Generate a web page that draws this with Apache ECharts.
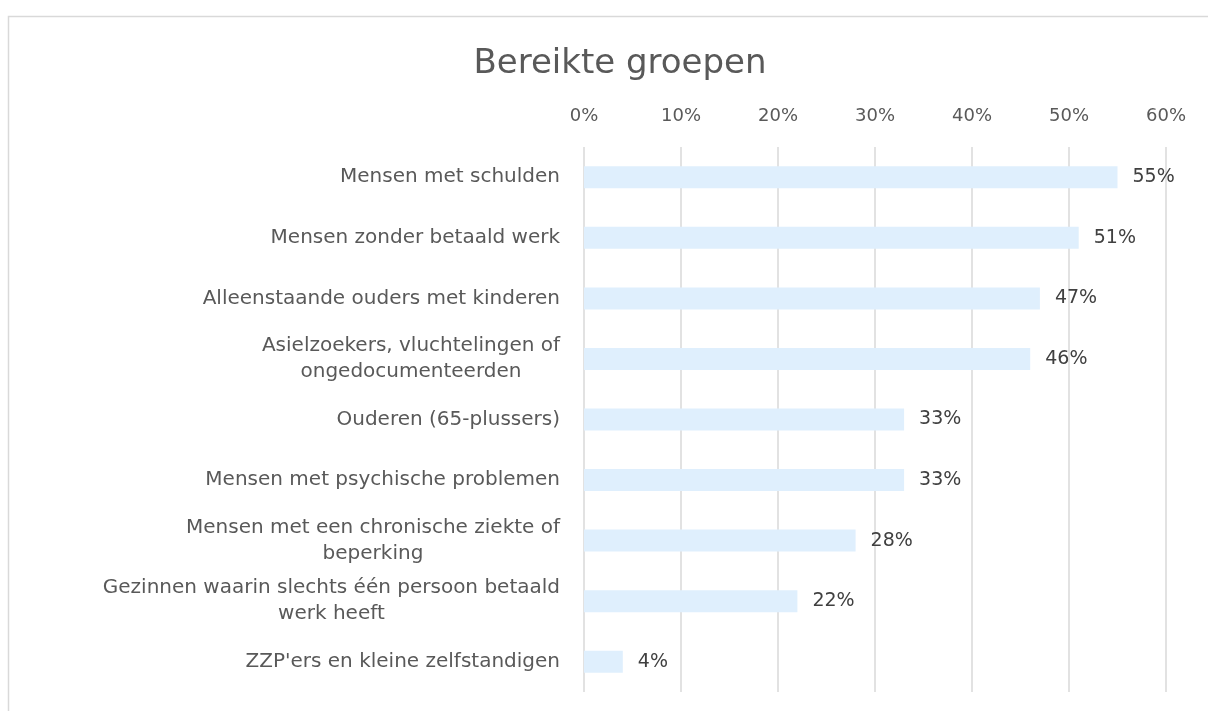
<!DOCTYPE html>
<html>
<head>
<meta charset="utf-8">
<script src="https://cdn.jsdelivr.net/npm/echarts@6/dist/echarts.min.js"></script>
<style>
  html, body { margin: 0; padding: 0; background: #fff; }
  #chart { width: 1208px; height: 711px; }
</style>
</head>
<body>
<div id="chart"></div>
<script>
const categories = [
  'Mensen met schulden',
  'Mensen zonder betaald werk',
  'Alleenstaande ouders met kinderen',
  'Asielzoekers, vluchtelingen of\nongedocumenteerden',
  'Ouderen (65-plussers)',
  'Mensen met psychische problemen',
  'Mensen met een chronische ziekte of\nbeperking',
  'Gezinnen waarin slechts één persoon betaald\nwerk heeft',
  "ZZP'ers en kleine zelfstandigen"
]
const values = [55, 51, 47, 46, 33, 33, 28, 22, 4]

const font = 'DejaVu Sans'
const chart = echarts.init(document.getElementById('chart'))

chart.setOption({
  animation: false,
  title: {
    text: 'Bereikte groepen',
    left: 615,
    top: 42,
    textAlign: 'center',
    textStyle: { fontFamily: font, fontSize: 34, fontWeight: 'normal', color: '#595959' }
  },
  graphic: [{
    type: 'rect',
    shape: { x: 8.5, y: 16.5, width: 1300, height: 800 },
    style: { fill: 'none', stroke: '#d9d9d9', lineWidth: 1.5 },
    silent: true
  }],
  grid: { left: 584, right: 42, top: 147, bottom: 19 },
  xAxis: {
    type: 'value',
    position: 'top',
    min: 0,
    max: 60,
    interval: 10,
    axisLine: { show: false },
    axisTick: { show: false },
    axisLabel: {
      formatter: '{value}%',
      margin: 22,
      fontFamily: font,
      fontSize: 18,
      color: '#595959'
    },
    splitLine: { lineStyle: { color: '#d9d9d9', width: 1.5 } }
  },
  yAxis: {
    type: 'category',
    inverse: true,
    data: categories,
    axisLine: { show: false },
    axisTick: { show: false },
    axisLabel: {
      margin: 24,
      formatter: v => v.split('\n').map(s => '{c|' + s + '}').join('\n'),
      rich: {
        c: { align: 'center', fontFamily: font, fontSize: 20, lineHeight: 26, color: '#595959' }
      }
    }
  },
  series: [{
    type: 'bar',
    data: values,
    barWidth: 22,
    itemStyle: { color: '#dfeffd' },
    label: {
      show: true,
      position: 'right',
      distance: 15,
      formatter: '{c}%',
      fontFamily: font,
      fontSize: 19,
      color: '#404040'
    }
  }]
})
</script>
</body>
</html>
